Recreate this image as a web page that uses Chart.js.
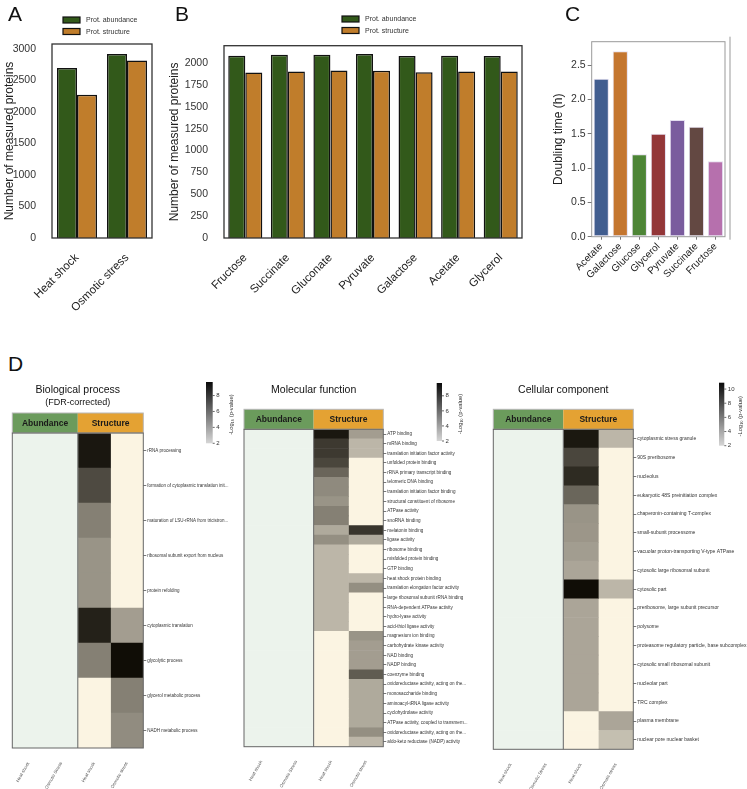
<!DOCTYPE html>
<html>
<head>
<meta charset="utf-8">
<script src="https://cdn.jsdelivr.net/npm/chart.js@4.4.1/dist/chart.umd.min.js"></script>
<style>
  body { margin: 0; background: #fff; }
  #fig { position: relative; width: 747px; height: 789px; overflow: hidden; font-family: 'Liberation Sans', Arial, sans-serif; }
  #fig canvas { position: absolute; }
  .tag { position: absolute; font-size: 21px; color: #111; line-height: 1; }
</style>
</head>
<body>
<div id="fig">
  <canvas id="chartA" width="165" height="330" style="left:0;top:0"></canvas>
  <canvas id="chartB" width="365" height="330" style="left:165px;top:0"></canvas>
  <canvas id="chartC" width="217" height="330" style="left:530px;top:0"></canvas>
  <canvas id="heatBP" width="242" height="414" style="left:0;top:375px"></canvas>
  <canvas id="heatMF" width="248" height="414" style="left:242px;top:375px"></canvas>
  <canvas id="heatCC" width="257" height="414" style="left:490px;top:375px"></canvas>
  <div class="tag" style="left:8px;top:3px">A</div>
  <div class="tag" style="left:175px;top:3px">B</div>
  <div class="tag" style="left:565px;top:3px">C</div>
  <div class="tag" style="left:8px;top:353px">D</div>
</div>
<script>
// panel A
const stressLabels = ['Heat shock', 'Osmotic stress'];
const stressAbundance = [2700, 2920];
const stressStructure = [2275, 2820];

// panel B
const carbonLabels = ['Fructose', 'Succinate', 'Gluconate', 'Pyruvate', 'Galactose', 'Acetate', 'Glycerol'];
const carbonAbundance = [2085, 2096, 2096, 2104, 2081, 2085, 2081];
const carbonStructure = [1893, 1905, 1916, 1913, 1897, 1905, 1905];

// panel C
const growthLabels = ['Acetate', 'Galactose', 'Glucose', 'Glycerol', 'Pyruvate', 'Succinate', 'Fructose'];
const doublingTime = [2.3, 2.7, 1.2, 1.5, 1.7, 1.6, 1.1];

// y tick labels
const ticksA = [0, 500, 1000, 1500, 2000, 2500, 3000];
const ticksB = [0, 250, 500, 750, 1000, 1250, 1500, 1750, 2000];
const ticksC = [0, 0.5, 1, 1.5, 2, 2.5];

// panel D (-log10 p-values, null = not enriched)
const conditionLabels = ['Heat shock', 'Osmotic Stress', 'Heat shock', 'Osmotic stress'];

const bpTerms = ['rRNA processing', 'formation of cytoplasmic translation init...', 'maturation of LSU-rRNA from tricistron...',
  'ribosomal subunit export from nucleus', 'protein refolding', 'cytoplasmic translation', 'glycolytic process',
  'glycerol metabolic process', 'NADH metabolic process'];
const bpHeatShock = [9.2, 7.1, 4.9, 4.1, 4.1, 8.8, 4.9, null, null];
const bpOsmotic = [null, null, null, null, null, 3.7, 9.6, 4.9, 4.4];

const mfTerms = ['ATP binding', 'mRNA binding', 'translation initiation factor activity', 'unfolded protein binding',
  'rRNA primary transcript binding', 'telomeric DNA binding', 'translation initiation factor binding',
  'structural constituent of ribosome', 'ATPase activity', 'snoRNA binding', 'melatonin binding', 'ligase activity',
  'ribosome binding', 'misfolded protein binding', 'GTP binding', 'heat shock protein binding',
  'translation elongation factor activity', 'large ribosomal subunit rRNA binding', 'RNA-dependent ATPase activity',
  'hydro-lyase activity', 'acid-thiol ligase activity', 'magnesium ion binding', 'carbohydrate kinase activity',
  'NAD binding', 'NADP binding', 'coenzyme binding', 'oxidoreductase activity, acting on the...',
  'monosaccharide binding', 'aminoacyl-tRNA ligase activity', 'cyclohydrolase activity',
  'ATPase activity, coupled to transmem...', 'oxidoreductase activity, acting on the...',
  'aldo-keto reductase (NADP) activity'];
const mfHeatShock = [9.2, 7.8, 7.8, 7.3, 6.0, 4.5, 4.5, 4.1, 4.9, 4.9, 3.2, 4.3, 2.7, 2.7, 2.7, 2.7, 2.7, 2.7, 2.7, 2.7, 2.7,
  null, null, null, null, null, null, null, null, null, null, null, null];
const mfOsmotic = [3.7, 2.7, 2.7, null, null, null, null, null, null, null, 8.0, 3.2, null, null, null, 2.7, 4.3,
  null, null, null, null, 4.1, 3.7, 3.7, 3.7, 6.4, 3.2, 3.2, 3.2, 3.2, 3.2, 4.3, 2.7];

const ccTerms = ['cytoplasmic stress granule', '90S preribosome', 'nucleolus', 'eukaryotic 48S preinitiation complex',
  'chaperonin-containing T-complex', 'small-subunit processome', 'vacuolar proton-transporting V-type ATPase',
  'cytosolic large ribosomal subunit', 'cytosolic part', 'preribosome, large subunit precursor', 'polysome',
  'proteasome regulatory particle, base subcomplex', 'cytosolic small ribosomal subunit', 'nucleolar part',
  'TRC complex', 'plasma membrane', 'nuclear pore nuclear basket'];
const ccHeatShock = [10.3, 8.1, 9.4, 6.6, 4.4, 4.3, 4.0, 3.6, 10.8, 3.6, 3.6, 3.6, 3.6, 3.6, 3.6, null, null];
const ccOsmotic = [2.8, null, null, null, null, null, null, null, 2.8, null, null, null, null, null, null, 3.6, 2.4];

const GREEN = '#32591a';
const ORANGE = '#c07d2b';
const growthColors = ['#415d8f', '#c4762f', '#4d8536', '#933638', '#7a5c9e', '#634842', '#b670ad'];

Chart.defaults.font.family = "'Liberation Sans', Arial, sans-serif";
Chart.defaults.animation = false;
Chart.defaults.plugins.legend.display = false;
Chart.defaults.plugins.tooltip.enabled = false;

// box around the plot area
const frame = {
  id: 'frame',
  afterDraw(chart, args, opts) {
    const { ctx, chartArea: a } = chart;
    ctx.save();
    ctx.strokeStyle = opts.color || '#333';
    ctx.lineWidth = opts.width || 1;
    ctx.strokeRect(a.left, a.top, a.width, a.height);
    if (opts.sideLine) {
      ctx.beginPath();
      ctx.moveTo(a.right + opts.sideLine, a.top - 5);
      ctx.lineTo(a.right + opts.sideLine, a.bottom + 3);
      ctx.stroke();
    }
    ctx.restore();
  }
};

// legend with one item per row
const boxLegend = {
  id: 'boxLegend',
  afterDraw(chart, args, opts) {
    if (opts.x == null) return;
    const ctx = chart.ctx;
    ctx.save();
    chart.data.datasets.forEach((ds, i) => {
      const y = opts.y + i * 11.5;
      ctx.fillStyle = ds.backgroundColor;
      ctx.fillRect(opts.x, y, 17, 6);
      ctx.strokeStyle = '#111';
      ctx.lineWidth = 1.2;
      ctx.strokeRect(opts.x, y, 17, 6);
      ctx.fillStyle = '#333';
      ctx.font = "7px 'Liberation Sans', Arial, sans-serif";
      ctx.textBaseline = 'middle';
      ctx.fillText(ds.label, opts.x + 23, y + 3.5);
    });
    ctx.restore();
  }
};

function countOptions(c) {
  return {
    responsive: false,
    layout: { padding: { left: 0, top: c.top, right: c.right, bottom: 0 } },
    datasets: { bar: { barPercentage: 1, categoryPercentage: 0.8, borderColor: '#111', borderWidth: 1.5 } },
    scales: {
      x: {
        grid: { display: false },
        border: { display: false },
        ticks: { minRotation: 45, maxRotation: 45, autoSkip: false, font: { size: 11.5 }, color: '#222', padding: 5 },
        afterFit: s => { s.height = c.bottom; }
      },
      y: {
        min: 0, max: c.max,
        grid: { display: false },
        border: { display: false },
        afterBuildTicks: s => { s.ticks = c.ticks.map(v => ({ value: v })); },
        ticks: { callback: v => String(v), font: { size: 10.5 }, color: '#333', padding: 8 },
        title: { display: true, text: 'Number of measured proteins', font: { size: 12 }, color: '#222', padding: 2 },
        afterFit: s => { s.width = c.axisWidth; }
      }
    },
    plugins: { frame: { color: '#333', width: 1.3 }, boxLegend: c.legend }
  };
}

new Chart(document.getElementById('chartA'), {
  type: 'bar',
  data: {
    labels: stressLabels,
    datasets: [
      { label: 'Prot. abundance', data: stressAbundance, backgroundColor: GREEN },
      { label: 'Prot. structure', data: stressStructure, backgroundColor: ORANGE }
    ]
  },
  options: countOptions({ max: 3080, ticks: ticksA, axisWidth: 52, bottom: 92, top: 44, right: 13, legend: { x: 63, y: 17 } }),
  plugins: [frame, boxLegend]
});

new Chart(document.getElementById('chartB'), {
  type: 'bar',
  data: {
    labels: carbonLabels,
    datasets: [
      { label: 'Prot. abundance', data: carbonAbundance, backgroundColor: GREEN },
      { label: 'Prot. structure', data: carbonStructure, backgroundColor: ORANGE }
    ]
  },
  options: countOptions({ max: 2200, ticks: ticksB, axisWidth: 59, bottom: 92, top: 45.7, right: 8, legend: { x: 177, y: 16 } }),
  plugins: [frame, boxLegend]
});

new Chart(document.getElementById('chartC'), {
  type: 'bar',
  data: {
    labels: growthLabels,
    datasets: [{ data: doublingTime, backgroundColor: growthColors, borderColor: '#e4def0', borderWidth: 1, borderSkipped: false }]
  },
  options: {
    responsive: false,
    layout: { padding: { left: 19, top: 41.7, right: 22, bottom: 0 } },
    datasets: { bar: { barPercentage: 0.8, categoryPercentage: 1 } },
    scales: {
      x: {
        grid: { offset: false, drawOnChartArea: false, tickLength: 3, color: '#777' },
        border: { display: false },
        ticks: { minRotation: 45, maxRotation: 45, autoSkip: false, font: { size: 10 }, color: '#222', padding: 1 },
        afterFit: s => { s.height = 93.3; }
      },
      y: {
        min: 0, max: 2.84,
        grid: { drawOnChartArea: false, tickLength: 4, color: '#777' },
        border: { display: false },
        afterBuildTicks: s => { s.ticks = ticksC.map(v => ({ value: v })); },
        ticks: { callback: v => v.toFixed(1), font: { size: 10.5 }, color: '#333', padding: 2 },
        title: { display: true, text: 'Doubling time (h)', font: { size: 12 }, color: '#222', padding: 2 },
        afterFit: s => { s.width = 42.7; }
      }
    },
    plugins: { frame: { color: '#999', width: 1, sideLine: 5 } }
  },
  plugins: [frame]
});

// heatmap colours: light grey-beige at 2 to near black at the top of the range
function heatColor(v, vmax) {
  const t = Math.max(0, Math.min(1, (v - 2) / (vmax - 2)));
  const lo = [205, 199, 184], hi = [14, 11, 4];
  const c = lo.map((l, k) => Math.round(l + (hi[k] - l) * t));
  return `rgb(${c})`;
}

function heatmap(id, cfg) {
  const column = (from, to) => cfg.terms.map(() => [from, to]);
  const shade = vals => vals.map(v => v == null ? '#fbf4e2' : heatColor(v, cfg.vmax));

  const decor = {
    id: 'heatDecor',
    afterDraw(chart) {
      const { ctx, chartArea: a, scales: { x } } = chart;
      const mid = x.getPixelForValue(2);
      const cx = (a.left + a.right) / 2;
      ctx.save();
      // titles
      ctx.fillStyle = '#111';
      ctx.textAlign = 'center';
      ctx.textBaseline = 'middle';
      ctx.font = "10.5px 'Liberation Sans', Arial, sans-serif";
      ctx.fillText(cfg.title, cx, 15);
      if (cfg.subtitle) {
        ctx.font = "9px 'Liberation Sans', Arial, sans-serif";
        ctx.fillText(cfg.subtitle, cx, 28);
      }
      // header band
      const hTop = a.top - 20;
      ctx.fillStyle = '#6b9b5c';
      ctx.fillRect(a.left, hTop, mid - a.left, 20);
      ctx.fillStyle = '#e4a233';
      ctx.fillRect(mid, hTop, a.right - mid, 20);
      ctx.strokeStyle = '#b8b8b8';
      ctx.lineWidth = 1;
      ctx.strokeRect(a.left, hTop, a.width, 20);
      ctx.fillStyle = '#1a1a1a';
      ctx.font = "bold 8.5px 'Liberation Sans', Arial, sans-serif";
      ctx.fillText('Abundance', (a.left + mid) / 2, hTop + 10.5);
      ctx.fillText('Structure', (mid + a.right) / 2, hTop + 10.5);
      // heatmap frame
      ctx.strokeStyle = '#666';
      ctx.strokeRect(a.left, a.top, a.width, a.height);
      ctx.beginPath();
      ctx.moveTo(mid, a.top);
      ctx.lineTo(mid, a.bottom);
      ctx.stroke();
      // colour bar
      const b = cfg.bar;
      const g = ctx.createLinearGradient(0, b.y, 0, b.y + b.h);
      g.addColorStop(0, '#0a0a0a');
      g.addColorStop(1, '#d6d6d6');
      ctx.fillStyle = g;
      ctx.fillRect(b.x, b.y, b.w, b.h);
      ctx.strokeStyle = '#444';
      ctx.lineWidth = 0.8;
      ctx.fillStyle = '#333';
      ctx.textAlign = 'left';
      ctx.font = "6px 'Liberation Sans', Arial, sans-serif";
      b.ticks.forEach(t => {
        const y = b.y + b.h - (t - 2) / (cfg.vmax - 2) * b.h;
        ctx.beginPath();
        ctx.moveTo(b.x + b.w, y);
        ctx.lineTo(b.x + b.w + 2, y);
        ctx.stroke();
        ctx.fillText(String(t), b.x + b.w + 3.5, y);
      });
      ctx.translate(b.labelX, b.y + b.h / 2 + 2);
      ctx.rotate(-Math.PI / 2);
      ctx.textAlign = 'center';
      ctx.font = "5.8px 'Liberation Sans', Arial, sans-serif";
      ctx.fillText('-Log\u2081\u2080 (p-value)', 0, 0);
      ctx.restore();
    }
  };

  new Chart(document.getElementById(id), {
    type: 'bar',
    data: {
      labels: cfg.terms,
      datasets: [
        { data: column(0, 2), backgroundColor: '#ecf3ec' },
        { data: column(2, 3), backgroundColor: shade(cfg.heat) },
        { data: column(3, 4), backgroundColor: shade(cfg.osmo) }
      ]
    },
    options: {
      indexAxis: 'y',
      responsive: false,
      layout: { padding: { left: cfg.left, top: cfg.top, right: 0, bottom: 0 } },
      datasets: { bar: { grouped: false, barPercentage: 1, categoryPercentage: 1, borderWidth: 0 } },
      scales: {
        x: {
          type: 'linear', min: 0, max: 4,
          afterBuildTicks: s => { s.ticks = conditionLabels.map((_, i) => ({ value: i + 0.5 })); },
          ticks: { autoSkip: false, callback: (v, i) => conditionLabels[i], minRotation: 60, maxRotation: 60, font: { size: 4.5 }, color: '#555', padding: 5 },
          grid: { display: false },
          border: { display: false },
          afterFit: s => { s.height = cfg.bottom; }
        },
        y: {
          position: 'right',
          grid: { offset: false, drawOnChartArea: false, tickLength: 3, color: '#555', lineWidth: 0.8 },
          border: { display: false },
          ticks: { autoSkip: false, font: { size: cfg.labelSize }, color: '#333', padding: 1 },
          afterFit: s => { s.width = cfg.axisWidth; }
        }
      }
    },
    plugins: [decor]
  });
}

heatmap('heatBP', {
  title: 'Biological process', subtitle: '(FDR-corrected)',
  terms: bpTerms, heat: bpHeatShock, osmo: bpOsmotic, vmax: 9.7,
  left: 12.3, top: 58, bottom: 41, axisWidth: 98.7, labelSize: 4.5,
  bar: { x: 206, y: 7, w: 6.7, h: 61.3, ticks: [2, 4, 6, 8], labelX: 231 }
});

heatmap('heatMF', {
  title: 'Molecular function',
  terms: mfTerms, heat: mfHeatShock, osmo: mfOsmotic, vmax: 9.7,
  left: 2, top: 54.3, bottom: 42.3, axisWidth: 106.7, labelSize: 4.6,
  bar: { x: 194.7, y: 8, w: 5.3, h: 58, ticks: [2, 4, 6, 8], labelX: 218 }
});

heatmap('heatCC', {
  title: 'Cellular component',
  terms: ccTerms, heat: ccHeatShock, osmo: ccOsmotic, vmax: 10.9,
  left: 3.3, top: 54.3, bottom: 39.7, axisWidth: 113.7, labelSize: 5,
  bar: { x: 229, y: 7.7, w: 5.3, h: 63, ticks: [2, 4, 6, 8, 10], labelX: 250 }
});
</script>
</body>
</html>
